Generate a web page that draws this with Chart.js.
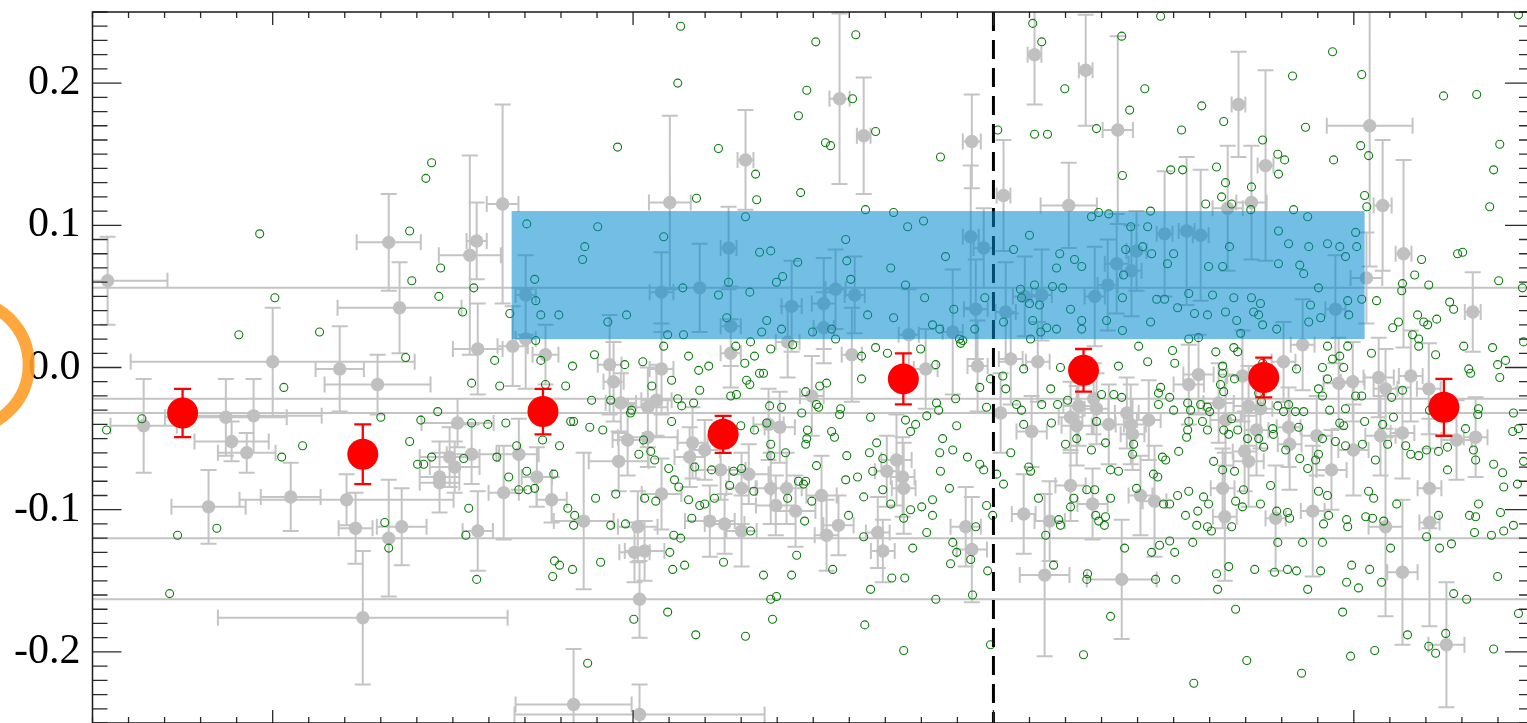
<!DOCTYPE html>
<html>
<head>
<meta charset="utf-8">
<script src="https://cdn.jsdelivr.net/npm/chart.js@4.4.1/dist/chart.umd.min.js"></script>
<style>
  html, body { margin: 0; padding: 0; background: #fff; overflow: hidden; }
  #wrap { width: 1545px; height: 730px; }
</style>
</head>
<body>
<div id="wrap"><canvas id="c" width="1545" height="730"></canvas></div>
<script>
// Axis ranges and labelled ticks
const xMin = -0.5, xMax = 3.5;
const yMin = -0.25, yMax = 0.25;
const yTickValues = [-0.2, -0.1, 0.0, 0.1, 0.2];

// Binned means (red) with their uncertainties
const binX   = [-0.25, 0.25, 0.75, 1.25, 1.75, 2.25, 2.75, 3.25];
const binY   = [-0.032, -0.061, -0.031, -0.047, -0.008, -0.002, -0.007, -0.028];
const binErr = [0.017, 0.021, 0.016, 0.013, 0.018, 0.015, 0.014, 0.020];

// Shaded reference band and divider
const bandX = [0.663, 3.03];
const bandY = [0.02, 0.11];
const dividerX = 2.0;

// Reference marker left of the axis
const ringX = -0.856, ringY = 0.002;

// Individual measurements with errors (grey)
const grayX = [
-0.458,0.000,0.186,0.291,-0.358,-0.130,-0.053,-0.114,-0.072,-0.178,
0.050,0.205,0.230,0.250,0.638,0.566,0.547,0.322,0.352,1.102,
1.312,1.265,1.573,1.640,1.940,1.937,2.028,2.114,2.256,2.345,
2.209,2.680,2.755,3.044,3.080,3.138,2.650,2.716,2.536,2.475,
2.575,0.569,0.666,0.702,0.702,0.757,0.513,0.552,0.491,0.505,
0.463,0.683,0.733,0.935,0.946,0.966,0.985,0.960,1.041,1.041,
1.065,1.079,1.079,1.185,1.165,1.199,1.157,1.243,1.321,1.271,
1.271,1.440,1.529,1.529,1.562,1.615,1.429,1.607,1.496,1.765,
1.812,1.887,1.951,1.973,1.956,2.034,2.048,2.020,2.087,2.134,
2.123,2.106,2.281,2.317,2.342,2.383,2.397,2.278,2.236,2.214,
2.231,2.286,2.320,2.370,2.381,2.386,1.376,1.407,1.731,1.704,
1.748,3.035,2.949,3.330,2.858,2.805,2.691,2.569,2.542,2.958,
2.997,3.069,3.158,3.088,3.208,2.431,2.625,2.644,2.708,2.741,
2.730,2.819,2.822,2.897,2.999,3.074,3.135,3.285,3.338,2.697,
2.708,2.938,0.641,0.774,0.863,1.013,1.004,1.032,1.018,1.018,
0.835,1.079,1.213,1.254,1.301,1.301,0.358,0.322,0.569,0.463,
1.382,1.426,1.396,1.451,1.523,1.537,1.570,1.679,1.693,1.751,
1.923,1.940,2.084,2.156,2.142,2.214,2.275,2.356,2.408,2.447,
2.636,2.642,2.783,2.886,3.088,3.135,3.210,3.210,3.257
];
const grayY = [
0.061,0.004,-0.001,-0.012,-0.041,-0.035,-0.034,-0.052,-0.060,-0.098,
-0.091,-0.093,-0.113,-0.176,0.115,0.089,0.079,0.088,0.042,0.116,
0.146,0.084,0.189,0.163,0.159,0.092,0.121,0.220,0.209,0.167,
0.114,0.185,0.142,0.170,0.114,0.080,0.112,0.116,0.096,0.094,
0.093,0.013,0.015,0.051,0.020,0.009,-0.039,-0.061,-0.063,-0.070,
-0.077,-0.061,-0.077,0.002,-0.010,-0.025,-0.051,-0.066,-0.049,-0.028,
-0.023,-0.001,0.053,0.056,-0.053,-0.058,-0.063,-0.072,-0.075,0.010,
0.029,0.043,0.045,0.028,0.055,0.051,0.018,0.009,-0.020,0.023,
-0.001,0.025,0.041,0.084,0.001,0.039,0.006,-0.032,0.050,0.051,
0.004,-0.045,0.050,0.058,0.073,0.068,0.082,-0.022,-0.027,-0.035,
-0.041,-0.029,-0.040,-0.032,-0.040,-0.047,-0.040,-0.042,-0.065,-0.073,
-0.077,0.063,0.041,0.039,0.016,0.004,-0.006,-0.005,-0.012,-0.011,
-0.010,-0.007,-0.006,-0.015,-0.015,-0.037,-0.025,-0.037,-0.027,-0.029,
-0.044,-0.042,-0.054,-0.048,-0.058,-0.048,-0.046,-0.051,-0.049,-0.059,
-0.066,-0.072,-0.088,-0.093,-0.108,-0.112,-0.130,-0.129,-0.163,-0.244,
-0.237,-0.089,-0.108,-0.110,-0.115,-0.085,-0.112,-0.120,-0.115,-0.081,
-0.085,-0.085,-0.097,-0.101,-0.090,-0.118,-0.111,-0.116,-0.129,-0.085,
-0.112,-0.128,-0.103,-0.108,-0.146,-0.083,-0.096,-0.149,-0.090,-0.094,
-0.085,-0.105,-0.106,-0.101,-0.112,-0.144,-0.085,-0.109,-0.195
];
const grayXErr = [
0.166,0.394,0.067,0.147,0.092,0.169,0.189,0.103,0.080,0.103,
0.083,0.297,0.047,0.402,0.044,0.028,0.086,0.089,0.172,0.058,
0.022,0.022,0.028,0.019,0.025,0.022,0.019,0.019,0.019,0.042,
0.078,0.019,0.022,0.119,0.025,0.022,0.042,0.042,0.022,0.022,
0.022,0.069,0.042,0.028,0.028,0.036,0.100,0.069,0.083,0.069,
0.055,0.055,0.042,0.033,0.028,0.042,0.042,0.083,0.083,0.055,
0.042,0.033,0.033,4,0.042,0.042,0.042,0.069,0.055,0.028,
0.028,0.028,0.033,0.028,0.028,0.028,0.033,0.028,0.033,0.028,
0.033,0.028,0.033,0.028,0.028,0.028,0.033,4,0.033,0.028,
0.033,0.042,0.028,0.028,0.033,0.028,0.028,4,0.042,0.033,
0.042,0.033,0.042,0.033,0.042,0.033,0.042,0.042,0.042,0.033,
0.033,0.044,0.028,0.022,0.033,0.033,0.042,0.042,0.042,0.042,
0.033,0.042,0.033,0.033,0.033,0.033,0.042,0.042,0.042,0.033,
0.033,0.033,0.033,0.042,0.042,0.042,0.033,0.042,0.033,0.033,
0.042,0.042,0.042,0.042,0.083,0.055,0.042,0.055,4,0.347,
0.161,0.055,0.069,0.055,0.042,0.042,0.069,4,0.042,0.055,
0.042,0.042,0.055,0.055,0.042,0.033,0.042,0.033,0.033,0.033,
0.042,0.042,0.033,0.042,0.069,0.042,0.042,0.097,0.033,0.033,
0.033,0.033,0.028,0.033,0.047,0.042,0.033,0.028,0.050
];
const grayYErr = [
0.031,0.038,0.030,0.021,0.033,0.027,0.026,0.014,0.014,0.026,
0.024,0.018,0.025,0.047,0.070,0.027,0.070,0.034,0.032,0.061,
0.035,0.029,0.060,0.041,0.033,0.050,0.039,0.035,0.039,0.066,
0.030,0.037,0.067,0.099,0.046,0.066,0.044,0.040,0.052,0.044,
0.046,0.032,0.028,0.028,0.035,0.021,0.017,0.021,0.021,0.018,
0.025,0.025,0.021,0.035,0.028,0.021,0.025,0.021,0.021,0.028,
0.025,0.032,0.028,0.031,0.025,0.021,0.021,0.021,0.021,0.024,
0.028,0.032,0.032,0.025,0.028,0.027,0.025,0.033,0.028,0.032,
0.028,0.044,0.035,0.028,0.032,0.035,0.032,0.028,0.028,0.032,
0.028,0.025,0.035,0.032,0.035,0.032,0.028,0.025,0.028,0.025,
0.028,0.025,0.028,0.025,0.028,0.025,0.025,0.025,0.032,0.025,
0.028,0.032,0.038,0.028,0.032,0.028,0.032,0.028,0.028,0.032,
0.028,0.028,0.032,0.028,0.032,0.028,0.028,0.032,0.028,0.028,
0.032,0.028,0.032,0.028,0.032,0.028,0.032,0.028,0.028,0.028,
0.032,0.028,0.033,0.016,0.048,0.025,0.021,0.021,0.027,0.021,
0.039,0.025,0.025,0.021,0.025,0.025,0.027,0.041,0.028,0.021,
0.025,0.025,0.021,0.025,0.028,0.025,0.021,0.025,0.022,0.032,
0.028,0.037,0.028,0.028,0.057,0.025,0.025,0.042,0.028,0.039,
0.028,0.045,0.037,0.046,0.063,0.051,0.028,0.073,0.044
];

// Full field sample (open green circles)
const fieldX = [
-0.036,1.132,1.124,0.957,1.237,0.441,0.425,1.340,1.343,1.176,
0.380,0.705,0.902,1.085,1.312,1.507,1.618,1.482,1.609,1.459,
1.673,1.534,1.548,1.853,1.465,1.645,1.723,1.762,1.806,2.012,
2.109,2.134,2.198,2.114,2.150,2.286,2.356,2.378,2.420,2.358,
2.272,2.292,2.320,2.381,1.590,2.100,2.464,3.457,2.941,2.830,
3.022,2.578,2.639,2.522,2.866,3.249,3.341,2.747,2.789,2.808,
3.019,3.041,2.944,2.791,2.619,2.492,2.525,2.644,2.716,3.405,
3.388,2.633,2.589,2.661,3.030,3.036,3.377,2.436,2.833,2.872,
2.714,2.791,3.005,2.428,0.006,-0.094,0.130,0.031,-0.363,-0.461,
0.083,0.025,0.300,-0.264,-0.155,-0.286,0.466,0.386,0.461,0.558,
0.527,0.658,0.727,0.730,0.744,0.794,0.866,0.860,0.930,0.982,
1.138,1.237,1.324,1.351,1.096,1.140,1.265,1.260,1.357,0.730,
1.085,1.326,1.285,1.337,0.369,0.616,0.893,0.832,0.744,0.977,
1.027,1.154,1.182,1.210,1.310,1.351,0.552,0.630,0.757,0.813,
1.052,1.107,1.185,1.315,1.324,0.885,0.938,1.124,1.135,1.168,
1.271,1.287,0.458,0.411,0.552,0.597,0.647,0.827,0.835,0.880,
0.916,0.993,0.996,1.107,1.299,1.337,0.380,0.749,0.796,0.677,
0.402,0.419,0.441,0.530,0.622,1.016,1.029,1.049,1.060,1.099,
1.171,1.218,1.279,1.301,0.655,0.705,0.780,1.115,1.382,1.457,
1.415,1.398,1.371,1.412,1.498,1.551,1.562,1.593,1.604,1.651,
1.715,1.723,1.756,1.809,1.831,1.851,1.867,1.890,1.906,1.915,
1.948,1.976,2.028,2.056,2.078,2.114,2.075,2.100,2.128,2.109,
2.131,2.148,2.175,2.164,2.192,2.184,2.225,2.245,2.175,2.214,
2.245,2.245,2.314,2.358,2.358,2.367,2.361,2.414,2.403,2.103,
1.382,1.443,1.673,1.706,1.634,1.798,1.840,1.909,1.362,1.634,
1.518,1.537,1.479,1.962,1.992,2.026,2.034,2.084,2.186,2.159,
2.347,2.300,2.334,2.356,1.379,1.412,1.468,1.509,1.515,1.576,
1.573,1.659,1.815,1.842,1.848,1.895,1.981,2.064,2.078,2.134,
2.178,2.206,1.371,1.484,1.482,1.479,1.551,1.559,1.756,1.770,
1.784,1.859,1.898,2.084,2.161,2.286,2.231,2.311,1.382,1.382,
1.423,1.509,1.593,1.656,1.676,1.693,1.665,1.623,1.851,1.887,
1.928,1.962,1.973,1.853,2.048,2.009,2.098,2.103,2.200,2.272,
2.325,2.347,2.386,2.389,1.459,1.479,1.590,2.439,2.500,2.483,
2.453,2.475,2.511,2.542,2.558,2.594,2.608,2.597,2.636,2.655,
2.667,2.644,2.675,2.716,2.722,2.736,2.741,2.747,2.791,2.786,
2.819,2.850,2.861,2.875,2.875,2.902,2.880,2.908,2.927,2.961,
2.977,2.983,2.986,3.008,3.022,2.436,2.428,2.542,2.569,2.497,
2.503,2.617,2.667,2.678,2.686,2.747,2.841,2.913,2.927,2.941,
2.961,2.972,2.983,3.049,3.063,3.108,3.124,3.133,3.135,3.163,
3.169,3.180,3.180,3.188,3.177,3.194,3.205,3.208,3.230,3.227,
3.266,3.277,3.288,3.302,3.305,3.319,3.324,3.385,3.402,3.399,
3.421,3.405,3.468,3.471,2.464,2.458,2.489,2.458,2.500,2.539,
2.547,2.575,2.594,2.600,2.636,2.636,2.630,2.639,2.669,2.661,
2.639,2.653,2.580,2.594,2.542,2.536,2.514,2.469,2.478,2.444,
2.456,2.611,2.636,2.669,2.744,2.736,2.805,2.819,2.789,2.838,
2.861,2.847,2.913,2.902,2.927,2.933,2.977,2.961,3.030,3.005,
3.022,2.972,2.949,2.977,3.024,3.060,3.080,3.105,3.110,3.135,
3.094,3.144,3.158,3.180,3.202,3.235,3.260,3.260,3.310,3.344,
3.332,3.338,3.263,3.346,3.413,3.441,3.443,3.457,3.471,3.388,
3.210,2.913,2.902,2.894,2.872,2.850,2.811,2.775,2.750,2.736,
2.705,2.777,2.678,2.539,0.544,0.536,0.322,0.566,0.782,0.796,
0.777,0.832,0.910,0.896,0.952,0.819,0.838,0.835,0.938,0.979,
1.032,1.063,1.113,1.132,1.102,1.110,1.143,1.154,1.185,1.199,
1.226,1.163,1.251,1.362,1.326,1.096,1.174,1.312,1.002,0.874,
0.727,0.708,0.683,1.127,1.335,1.268,0.311,1.473,1.429,1.496,
1.476,1.454,1.440,1.382,1.398,1.387,1.598,1.640,1.640,1.554,
1.659,1.643,1.693,1.715,1.718,1.754,1.751,1.770,1.776,1.801,
1.831,1.831,1.815,1.751,1.840,1.878,1.887,1.898,1.881,1.937,
1.951,1.942,1.981,1.984,1.992,1.998,2.125,2.145,2.167,2.181,
2.186,2.214,2.223,2.259,2.281,2.284,2.292,2.311,2.308,2.325,
2.364,2.261,2.259,2.325,2.250,2.028,2.397,2.542,2.511,2.489,
2.472,2.583,2.597,2.567,2.533,2.564,2.594,2.605,2.661,2.672,
2.691,2.694,2.741,2.769,2.786,2.816,2.822,2.789,2.858,2.902,
2.927,2.930,2.916,2.913,2.980,2.983,3.033,3.052,3.041,3.055,
3.119,3.083,3.102,3.202,3.235,3.238,3.271,3.321,3.338,3.335,
3.346,3.382,3.407,3.416,3.443,3.416,3.454,2.439,2.461,2.489,
2.503,2.553,2.450,2.506,2.619,2.653,2.622,2.725,2.780,2.816,
2.841,2.872,2.908,2.994,2.980,3.013,3.044,3.077,3.277,3.313,
3.399,3.457,2.672,2.969,3.149,3.255,3.208,3.227,3.058,2.991,
3.388,2.703,2.855,2.556
];
const fieldY = [
0.094,0.240,0.200,0.155,0.154,0.144,0.133,0.136,0.118,0.119,
0.096,0.101,0.099,0.092,0.106,0.229,0.234,0.195,0.189,0.177,
0.166,0.158,0.156,0.148,0.123,0.111,0.109,0.099,0.103,0.167,
0.242,0.229,0.196,0.164,0.164,0.168,0.233,0.181,0.196,0.135,
0.106,0.109,0.108,0.099,0.090,0.093,0.247,0.248,0.222,0.205,
0.206,0.184,0.173,0.167,0.169,0.191,0.192,0.160,0.150,0.146,
0.156,0.149,0.146,0.136,0.141,0.139,0.139,0.130,0.127,0.157,
0.139,0.120,0.115,0.115,0.121,0.113,0.113,0.110,0.111,0.106,
0.111,0.096,0.095,0.099,0.049,0.023,0.025,-0.014,-0.036,-0.044,
-0.055,-0.063,-0.035,-0.118,-0.113,-0.159,0.070,0.061,0.050,0.056,
0.039,0.038,0.062,0.047,0.037,0.037,0.085,0.076,0.032,0.037,
0.056,0.051,0.053,0.081,0.023,0.023,0.060,0.035,0.025,0.019,
0.015,0.018,0.015,0.008,0.007,0.005,0.009,0.001,0.005,0.002,
0.004,0.008,-0.002,0.001,0.003,-0.004,-0.011,-0.013,-0.012,-0.013,
-0.013,-0.009,-0.016,-0.009,-0.012,-0.023,-0.023,-0.022,-0.027,-0.025,
-0.020,-0.019,-0.031,-0.037,-0.039,-0.040,-0.039,-0.038,-0.038,-0.042,
-0.044,-0.032,-0.030,-0.038,-0.041,-0.044,-0.052,-0.051,-0.055,-0.055,
-0.068,-0.068,-0.063,-0.064,-0.063,-0.061,-0.051,-0.059,-0.065,-0.071,
-0.070,-0.072,-0.073,-0.071,-0.077,-0.073,-0.075,-0.079,0.082,0.074,
0.064,0.060,0.033,0.027,0.025,0.027,0.020,0.075,0.062,0.037,
0.070,0.035,0.058,0.049,0.030,0.027,0.078,0.041,0.020,0.019,
0.027,0.049,0.032,0.083,0.049,0.058,0.055,0.045,0.044,0.033,
0.025,0.028,0.027,0.057,0.056,0.080,0.076,0.071,0.070,0.041,
0.033,0.027,0.033,0.049,0.026,0.083,0.065,0.085,0.015,0.020,
0.013,0.016,0.014,0.010,0.008,0.013,0.002,0.017,-0.004,-0.008,
-0.013,-0.011,-0.017,-0.014,-0.008,-0.006,-0.015,-0.001,0.000,-0.015,
0.001,-0.019,-0.019,-0.021,-0.027,-0.028,-0.032,-0.026,-0.028,-0.029,
-0.033,-0.035,-0.034,-0.025,-0.030,-0.022,-0.028,-0.026,-0.030,-0.026,
-0.026,-0.023,-0.039,-0.044,-0.050,-0.054,-0.045,-0.049,-0.037,-0.045,
-0.040,-0.050,-0.041,-0.040,-0.039,-0.038,-0.050,-0.053,-0.054,-0.062,
-0.060,-0.069,-0.062,-0.060,-0.053,-0.064,-0.073,-0.077,-0.060,-0.058,
-0.063,-0.068,-0.072,-0.073,-0.060,-0.075,-0.070,-0.073,-0.054,-0.058,
-0.072,-0.073,-0.061,-0.054,-0.080,-0.080,-0.079,0.080,0.080,0.073,
0.048,0.048,0.042,0.052,0.038,0.037,0.051,0.071,0.071,0.085,
0.049,0.039,0.033,0.049,0.039,0.037,0.045,0.030,0.073,0.027,
0.087,0.072,0.066,0.085,0.032,0.056,0.044,0.035,0.087,0.085,
0.078,0.047,0.037,0.085,0.048,0.032,0.004,0.020,0.021,0.012,
0.003,0.011,0.014,0.011,0.024,0.003,-0.001,0.000,0.015,0.006,
0.008,0.000,0.015,0.010,0.047,0.028,0.032,0.054,0.059,0.023,
0.065,0.020,0.015,0.076,0.037,0.032,0.030,0.058,0.034,0.009,
0.046,0.041,0.080,0.081,0.015,-0.001,-0.004,0.014,0.061,0.002,
0.005,-0.007,0.056,0.018,-0.014,-0.018,-0.021,-0.026,-0.030,-0.025,
-0.030,-0.026,-0.028,-0.031,0.001,-0.004,-0.012,-0.017,-0.008,-0.036,
-0.044,-0.047,-0.038,-0.044,-0.038,-0.049,-0.059,-0.063,-0.065,-0.075,
-0.077,-0.066,-0.072,-0.073,-0.024,-0.018,-0.031,-0.026,-0.027,-0.031,
-0.031,-0.042,-0.020,-0.015,-0.008,-0.030,-0.029,-0.039,-0.038,-0.020,
-0.020,-0.041,-0.052,-0.055,-0.054,-0.065,-0.040,-0.021,-0.035,-0.016,
-0.054,-0.055,-0.061,-0.062,-0.058,-0.059,-0.056,-0.072,-0.043,-0.033,
-0.058,-0.065,-0.029,-0.029,-0.074,-0.045,-0.032,-0.043,-0.066,-0.068,
-0.030,-0.050,-0.061,-0.065,-0.071,-0.064,-0.058,-0.043,-0.056,-0.050,
-0.050,-0.047,-0.044,-0.044,-0.099,-0.118,-0.127,-0.149,-0.136,-0.139,
-0.147,-0.142,-0.137,-0.092,-0.089,-0.099,-0.104,-0.111,-0.111,-0.110,
-0.092,-0.094,-0.118,-0.120,-0.130,-0.142,-0.139,-0.093,-0.097,-0.096,
-0.092,-0.106,-0.137,-0.146,-0.115,-0.172,-0.188,-0.189,-0.177,-0.208,
-0.085,-0.086,-0.086,-0.084,-0.087,-0.083,-0.109,-0.082,-0.092,-0.094,
-0.108,-0.132,-0.146,-0.163,-0.161,-0.177,-0.104,-0.091,-0.119,-0.142,
-0.156,-0.181,-0.086,-0.096,-0.148,-0.148,-0.106,-0.100,-0.127,-0.098,
-0.093,-0.104,-0.116,-0.199,-0.163,-0.085,-0.123,-0.130,-0.138,-0.135,
-0.112,-0.160,-0.097,-0.143,-0.195,-0.104,-0.092,-0.118,-0.139,-0.107,
-0.111,-0.098,-0.092,-0.086,-0.086,-0.104,-0.108,-0.105,-0.111,-0.092,
-0.127,-0.145,-0.149,-0.175,-0.202,-0.082,-0.085,-0.087,-0.090,-0.096,
-0.096,-0.091,-0.096,-0.101,-0.104,-0.111,-0.112,-0.115,-0.112,-0.094,
-0.098,-0.086,-0.096,-0.083,-0.101,-0.102,-0.106,-0.123,-0.123,-0.087,
-0.090,-0.104,-0.110,-0.123,-0.107,-0.112,-0.105,-0.106,-0.087,-0.092,
-0.096,-0.108,-0.127,-0.119,-0.104,-0.127,-0.124,-0.104,-0.105,-0.116,
-0.096,-0.118,-0.102,-0.115,-0.111,-0.084,-0.082,-0.130,-0.125,-0.122,
-0.130,-0.123,-0.149,-0.149,-0.145,-0.140,-0.156,-0.142,-0.144,-0.142,
-0.143,-0.156,-0.143,-0.139,-0.151,-0.155,-0.142,-0.151,-0.159,-0.163,
-0.147,-0.173,-0.170,-0.172,-0.188,-0.187,-0.196,-0.201,-0.199,-0.203,
-0.198,-0.206,-0.215,-0.222
];

// Assemble point objects for Chart.js
const grayPoints = grayX.map((x, i) => ({ x, y: grayY[i], xe: grayXErr[i], ye: grayYErr[i] }));
const fieldPoints = fieldX.map((x, i) => ({ x, y: fieldY[i] }));
const binPoints = binX.map((x, i) => ({ x, y: binY[i], ye: binErr[i] }));

// Draws error bars (with caps) for a dataset just before its markers
const errorBarPlugin = {
  id: 'errorBars',
  beforeDatasetDraw(chart, args) {
    const ds = chart.data.datasets[args.index];
    const eb = ds.errorBar;
    if (!eb) return;
    const { ctx, chartArea: a } = chart;
    const xs = chart.scales.x, ys = chart.scales.y;
    ctx.save();
    ctx.beginPath();
    ctx.rect(a.left, a.top, a.right - a.left, a.bottom - a.top);
    ctx.clip();
    ctx.strokeStyle = eb.color;
    ctx.lineWidth = eb.width;
    ctx.lineCap = 'butt';
    ctx.beginPath();
    ds.data.forEach(p => {
      const px = xs.getPixelForValue(p.x);
      const py = ys.getPixelForValue(p.y);
      if (p.ye) {
        const t = ys.getPixelForValue(p.y + p.ye);
        const b = ys.getPixelForValue(p.y - p.ye);
        ctx.moveTo(px, t); ctx.lineTo(px, b);
        ctx.moveTo(px - eb.cap, t); ctx.lineTo(px + eb.cap, t);
        ctx.moveTo(px - eb.cap, b); ctx.lineTo(px + eb.cap, b);
      }
      if (p.xe) {
        const l = xs.getPixelForValue(p.x - p.xe);
        const r = xs.getPixelForValue(p.x + p.xe);
        ctx.moveTo(l, py); ctx.lineTo(r, py);
        ctx.moveTo(l, py - eb.cap); ctx.lineTo(l, py + eb.cap);
        ctx.moveTo(r, py - eb.cap); ctx.lineTo(r, py + eb.cap);
      }
    });
    ctx.stroke();
    ctx.restore();
  }
};

// Divider line, translucent band, box frame and inward ticks
const framePlugin = {
  id: 'frame',
  afterDatasetsDraw(chart) {
    const { ctx, chartArea: a } = chart;
    const xs = chart.scales.x, ys = chart.scales.y;
    ctx.save();
    ctx.beginPath();
    ctx.rect(a.left, a.top, a.right - a.left, a.bottom - a.top);
    ctx.clip();
    const dx = xs.getPixelForValue(dividerX);
    ctx.strokeStyle = '#000';
    ctx.lineWidth = 3;
    ctx.setLineDash([19, 9]);
    ctx.beginPath();
    ctx.moveTo(dx, a.top);
    ctx.lineTo(dx, a.bottom);
    ctx.stroke();
    ctx.setLineDash([]);
    const bx0 = xs.getPixelForValue(bandX[0]), bx1 = xs.getPixelForValue(bandX[1]);
    const by0 = ys.getPixelForValue(bandY[1]), by1 = ys.getPixelForValue(bandY[0]);
    ctx.fillStyle = 'rgba(0,137,206,0.55)';
    ctx.fillRect(bx0, by0, bx1 - bx0, by1 - by0);
    ctx.restore();

    ctx.save();
    ctx.strokeStyle = '#2a2a2a';
    ctx.lineWidth = 1.3;
    ctx.beginPath();
    for (let i = -25; i <= 25; i++) {
      const py = ys.getPixelForValue(i / 100);
      const len = i % 10 === 0 ? 29 : 15;
      ctx.moveTo(a.left, py); ctx.lineTo(a.left + len, py);
      ctx.moveTo(a.right, py); ctx.lineTo(a.right - len, py);
    }
    for (let i = -5; i <= 35; i++) {
      const px = xs.getPixelForValue(i / 10);
      const len = i % 10 === 0 ? 13 : 6;
      ctx.moveTo(px, a.top); ctx.lineTo(px, a.top + len);
      ctx.moveTo(px, a.bottom); ctx.lineTo(px, a.bottom - len);
    }
    ctx.stroke();
    ctx.lineWidth = 1.5;
    ctx.strokeStyle = '#1a1a1a';
    ctx.strokeRect(a.left, a.top, a.right - a.left, a.bottom - a.top);
    ctx.restore();
  }
};

new Chart(document.getElementById('c'), {
  type: 'scatter',
  data: {
    datasets: [
      {
        label: 'reference',
        data: [{ x: ringX, y: ringY }],
        pointRadius: 64.5,
        pointHoverRadius: 170,
        pointBorderWidth: 12,
        pointBorderColor: 'rgba(255,160,45,0.92)',
        pointBackgroundColor: 'rgba(0,0,0,0)',
        clip: false,
        order: 0
      },
      {
        label: 'binned',
        data: binPoints,
        pointRadius: 15.5,
        pointBorderWidth: 0,
        pointBackgroundColor: '#ff0000',
        pointBorderColor: '#ff0000',
        errorBar: { color: '#ff0000', width: 2.3, cap: 8.5 },
        order: 1
      },
      {
        label: 'field',
        data: fieldPoints,
        pointRadius: 4,
        pointBorderWidth: 1.1,
        pointBorderColor: '#0b7d0b',
        pointBackgroundColor: 'rgba(0,0,0,0)',
        order: 2
      },
      {
        label: 'measured',
        data: grayPoints,
        pointRadius: 6.7,
        pointBorderWidth: 0,
        pointBackgroundColor: '#c0c0c0',
        pointBorderColor: '#c0c0c0',
        errorBar: { color: '#c4c4c4', width: 2, cap: 8 },
        order: 3
      }
    ]
  },
  options: {
    responsive: false,
    animation: false,
    events: [],
    layout: { autoPadding: false, padding: { left: 0, right: 11, top: 12, bottom: 7 } },
    plugins: { legend: { display: false }, tooltip: { enabled: false } },
    scales: {
      x: { type: 'linear', min: xMin, max: xMax, display: false },
      y: {
        type: 'linear',
        min: yMin,
        max: yMax,
        afterFit(scale) {
          scale.width = 92.5;
          scale.paddingTop = 0;
          scale.paddingBottom = 0;
        },
        afterBuildTicks(scale) { scale.ticks = yTickValues.map(v => ({ value: v })); },
        grid: { display: false, drawTicks: false },
        border: { display: false },
        ticks: {
          padding: 12,
          color: '#000',
          font: { family: "'Liberation Serif', 'Times New Roman', serif", size: 42 },
          callback: v => (Math.abs(v) < 1e-9 ? '0.0' : Number(v).toFixed(1))
        }
      }
    }
  },
  plugins: [errorBarPlugin, framePlugin]
});
</script>
</body>
</html>
